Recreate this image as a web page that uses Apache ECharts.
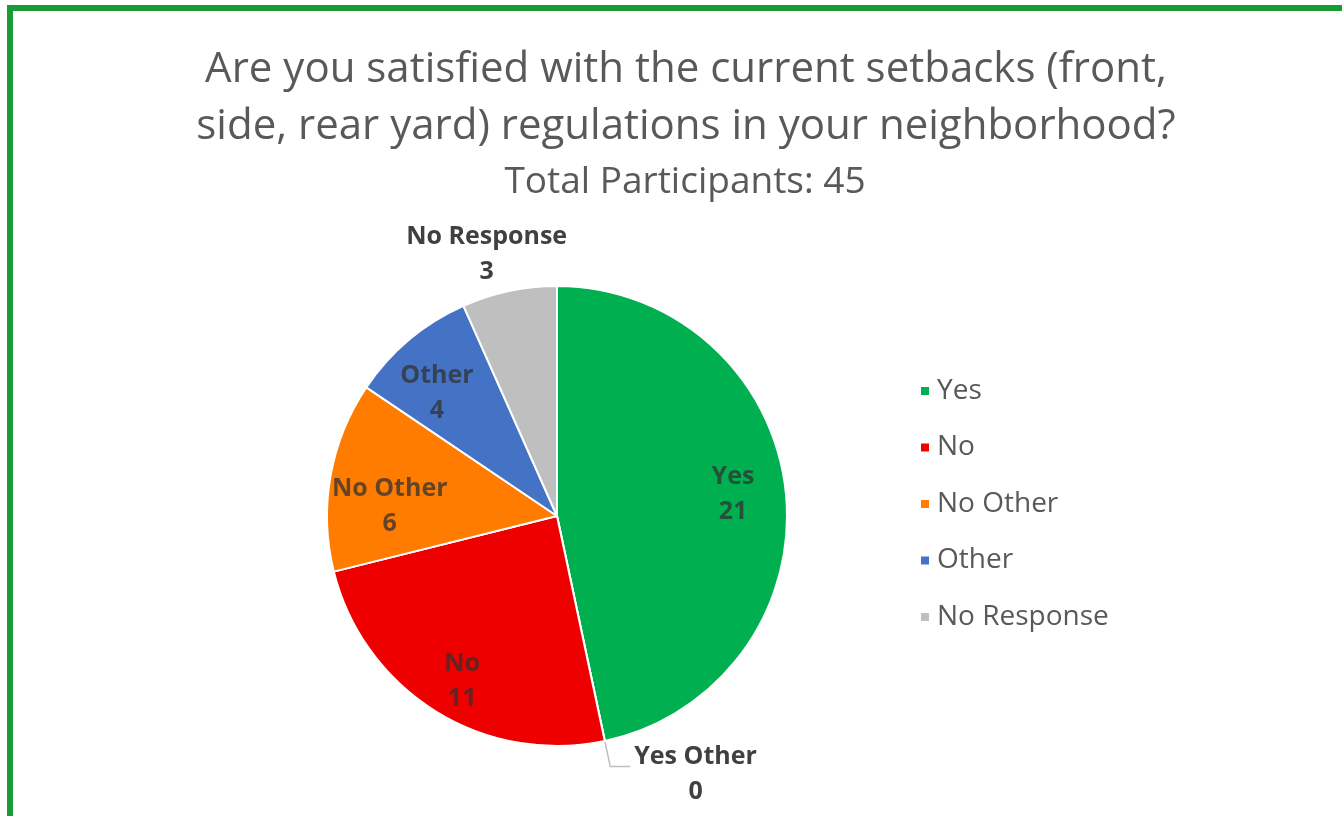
<!DOCTYPE html>
<html>
<head>
<meta charset="utf-8">
<script src="https://cdn.jsdelivr.net/npm/echarts@6/dist/echarts.min.js"></script>
<style>
  html, body { margin: 0; padding: 0; background: #ffffff; overflow: hidden; }
  #frame { position: absolute; left: 7px; top: 5px; width: 1335px; height: 811px;
           border-top: 6px solid #1a9c35; border-left: 6px solid #1a9c35; box-sizing: border-box; }
  #chart { position: absolute; left: 0; top: 0; width: 1342px; height: 816px; }
</style>
</head>
<body>
<div id="frame"></div>
<div id="chart"></div>
<script>
const titleText = 'Are you satisfied with the current setbacks (front,\nside, rear yard) regulations in your neighborhood?';
const subtitleText = 'Total Participants: 45';
const categories = ['Yes', 'Yes Other', 'No', 'No Other', 'Other', 'No Response'];
const values = [21, 0, 11, 6, 4, 3];
const sliceColors = ['#00b050', '#92d050', '#ee0000', '#ff7c00', '#4472c4', '#bfbfbf'];
const legendItems = ['Yes', 'No', 'No Other', 'Other', 'No Response'];
const innerLabelItems = ['Yes', 'No', 'No Other', 'Other'];
const outerLeaderItems = ['Yes Other'];
const outerPlainItems = ['No Response'];

const FONT = '"Open Sans", Lato, sans-serif';
const labelRich = {
  n: { fontFamily: FONT, fontSize: 25, fontWeight: 'bold', color: '#404040', lineHeight: 35 },
  v: { fontFamily: FONT, fontSize: 25, fontWeight: 'bold', color: '#404040', lineHeight: 35, align: 'center' }
};
const innerRich = {
  n: { fontFamily: FONT, fontSize: 25, fontWeight: 'bold', color: 'rgba(50,50,50,0.75)', lineHeight: 35 },
  v: { fontFamily: FONT, fontSize: 25, fontWeight: 'bold', color: 'rgba(50,50,50,0.75)', lineHeight: 35, align: 'center' }
};
const innerPad = { 'Yes': [0, 4, 6, 0], 'No': [28, 0, 0, 0], 'No Other': [42, 0, 0, 18], 'Other': [28, 10, 0, 0] };

const mainData = categories.map((c, i) => ({
  name: c, value: values[i],
  itemStyle: { color: sliceColors[i] },
  label: { show: outerLeaderItems.includes(c) },
  labelLine: { show: outerLeaderItems.includes(c) }
}));
const innerData = categories.map((c, i) => ({
  name: c, value: values[i],
  label: { show: innerLabelItems.includes(c), padding: innerPad[c] || 0 }
}));
const outerData = categories.map((c, i) => ({
  name: c, value: values[i],
  label: { show: outerPlainItems.includes(c) }
}));

const chart = echarts.init(document.getElementById('chart'), null, { renderer: 'canvas' });
chart.setOption({
  animation: false,
  backgroundColor: 'transparent',
  title: [
    { text: titleText, left: 681, top: 37, textAlign: 'center',
      textStyle: { fontFamily: FONT, fontSize: 42, fontWeight: 'normal', color: '#595959', lineHeight: 57 } },
    { text: subtitleText, left: 680, top: 159, textAlign: 'center',
      textStyle: { fontFamily: FONT, fontSize: 37, fontWeight: 'normal', color: '#595959' } }
  ],
  legend: {
    data: legendItems,
    orient: 'vertical',
    left: 914, top: 372,
    itemWidth: 10, itemHeight: 10, itemGap: 28.5,
    icon: 'rect',
    selectedMode: false,
    textStyle: { fontFamily: FONT, fontSize: 28, color: '#595959', padding: [0, 0, 0, 2] }
  },
  series: [
    {
      type: 'pie',
      center: [557, 516], radius: [0, 230],
      startAngle: 90, clockwise: true,
      avoidLabelOverlap: false,
      itemStyle: { borderColor: '#ffffff', borderWidth: 2 },
      emphasis: { disabled: true },
      label: { position: 'outside', formatter: '{n|{b}}\n{v|{c}}', rich: labelRich,
               distanceToLabelLine: 4, padding: [16, 0, 0, 0] },
      labelLine: { length: 26, length2: 20, smooth: false, lineStyle: { color: '#bfbfbf', width: 1.5 } },
      data: mainData
    },
    {
      type: 'pie', silent: true,
      center: [557, 516], radius: [120, 232],
      startAngle: 90, clockwise: true,
      avoidLabelOverlap: false,
      itemStyle: { color: 'rgba(0,0,0,0)', borderWidth: 0 },
      emphasis: { disabled: true },
      label: { position: 'inside', formatter: '{n|{b}}\n{v|{c}}', rich: innerRich },
      labelLine: { show: false },
      data: innerData
    },
    {
      type: 'pie', silent: true,
      center: [557, 516], radius: [262, 284],
      startAngle: 90, clockwise: true,
      avoidLabelOverlap: false,
      itemStyle: { color: 'rgba(0,0,0,0)', borderWidth: 0 },
      emphasis: { disabled: true },
      label: { position: 'inside', formatter: '{n|{b}}\n{v|{c}}', rich: labelRich, padding: [16, 26, 0, 0] },
      labelLine: { show: false },
      data: outerData
    }
  ]
});
</script>
</body>
</html>
